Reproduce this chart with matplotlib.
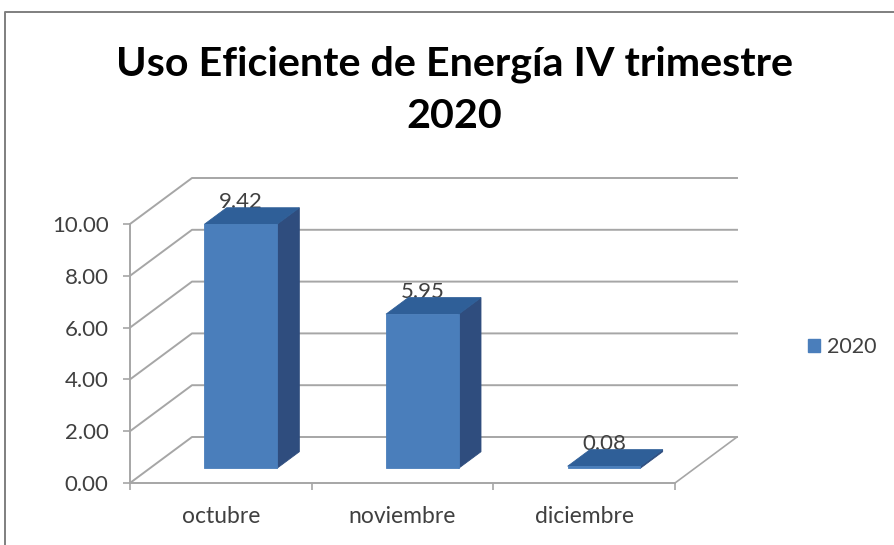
"""
Uso Eficiente de Energia: 3D-look column chart drawn on a plain 2D axes.
Depth is faked with an oblique offset in data units.
"""

import matplotlib
matplotlib.use("Agg")
import matplotlib.pyplot as plt
from matplotlib.lines import Line2D
from matplotlib.patches import Patch, Polygon

plt.rcParams["font.family"] = ["Lato", "DejaVu Sans"]

W, H = 894, 545

months = ["octubre", "noviembre", "diciembre"]
values = [9.42, 5.95, 0.08]
y_ticks = [0, 2, 4, 6, 8, 10]
series_name = "2020"
title = "Uso Eficiente de Energía IV trimestre\n2020"

GRID = "#a6a6a6"
TEXT = "#404040"
FRONT = "#4a7ebb"
TOP = "#2f5f98"
SIDE = "#2f4d7e"

# oblique depth of the floor, in data units
DEPTH_X = 0.3413
DEPTH_Y = 1.776
BAR_WIDTH = 0.40
BAR_NEAR = 0.32   # bar depth range as a share of the floor depth
BAR_FAR = 0.68


def offset(x, y, d):
    return (x + DEPTH_X * d, y + DEPTH_Y * d)


def draw_bar(ax, i, value):
    x0 = i + 0.5 - BAR_WIDTH / 2
    x1 = x0 + BAR_WIDTH
    near_bl = offset(x0, 0, BAR_NEAR)
    near_br = offset(x1, 0, BAR_NEAR)
    near_tl = offset(x0, value, BAR_NEAR)
    near_tr = offset(x1, value, BAR_NEAR)
    far_br = offset(x1, 0, BAR_FAR)
    far_tl = offset(x0, value, BAR_FAR)
    far_tr = offset(x1, value, BAR_FAR)

    faces = [
        ([near_br, far_br, far_tr, near_tr], SIDE),
        ([near_tl, near_tr, far_tr, far_tl], TOP),
        ([near_bl, near_br, near_tr, near_tl], FRONT),
    ]
    for pts, color in faces:
        ax.add_patch(Polygon(pts, closed=True, facecolor=color, edgecolor=color,
                             linewidth=0.6, zorder=4, clip_on=False))


fig = plt.figure(figsize=(W / 100, H / 100), dpi=100)
ax = fig.add_axes([130 / W, 1 - 483 / H, 545 / W, 259 / H])
ax.set_xlim(0, len(months))
ax.set_ylim(0, 10)

# chart frame, only top and left are inside the crop
fig.add_artist(Line2D([4.5 / W, 4.5 / W, 1], [0, 1 - 12 / H, 1 - 12 / H],
                      transform=fig.transFigure, color="#7f7f7f", linewidth=1.4))

# back wall gridlines and the slanted side wall lines
for v in y_ticks:
    back_l = offset(0, v, 1)
    back_r = offset(len(months), v, 1)
    ax.plot([0, back_l[0], back_r[0]], [v, back_l[1], back_r[1]],
            color=GRID, linewidth=1.4, clip_on=False, zorder=1)

# right edge of the floor
floor_r = offset(len(months), 0, 1)
ax.plot([len(months), floor_r[0]], [0, floor_r[1]],
        color=GRID, linewidth=1.2, clip_on=False, zorder=1)

# data labels first, the bar tops partly cover them
for i, v in enumerate(values):
    lx, ly = offset(i + 0.5, v, BAR_NEAR)
    ax.text(lx, ly + 0.85, f"{v:.2f}", ha="center", va="center",
            fontsize=16, color=TEXT, zorder=3)

for i, v in enumerate(values):
    draw_bar(ax, i, v)

for side in ("top", "right"):
    ax.spines[side].set_visible(False)
for side in ("left", "bottom"):
    ax.spines[side].set_color(GRID)
    ax.spines[side].set_linewidth(1.4)

ax.set_yticks(y_ticks)
ax.set_yticklabels([f"{v:.2f}" for v in y_ticks], fontsize=16, color=TEXT)
ax.set_xticks(range(len(months) + 1))
ax.set_xticklabels([])
ax.set_xticks([i + 0.5 for i in range(len(months))], minor=True)
ax.set_xticklabels(months, minor=True, fontsize=16.5, color=TEXT)
ax.tick_params(axis="both", which="major", length=5, width=1.2, color=GRID)
ax.tick_params(axis="y", pad=10.5)
ax.tick_params(axis="x", which="minor", length=0, pad=16.5)

fig.text(454 / W, 1 - 90.5 / H, title, ha="center", va="center", fontsize=29.7,
         fontweight="bold", color="black", linespacing=1.5)

fig.legend(handles=[Patch(facecolor=FRONT, edgecolor=FRONT, label=series_name)],
           loc="center left", bbox_to_anchor=(808 / W, 1 - 347 / H), frameon=False,
           fontsize=15.5, handlelength=0.55, handleheight=0.55, handletextpad=0.35,
           labelcolor=TEXT, borderpad=0, borderaxespad=0)

fig.savefig("out.png", dpi=100)
